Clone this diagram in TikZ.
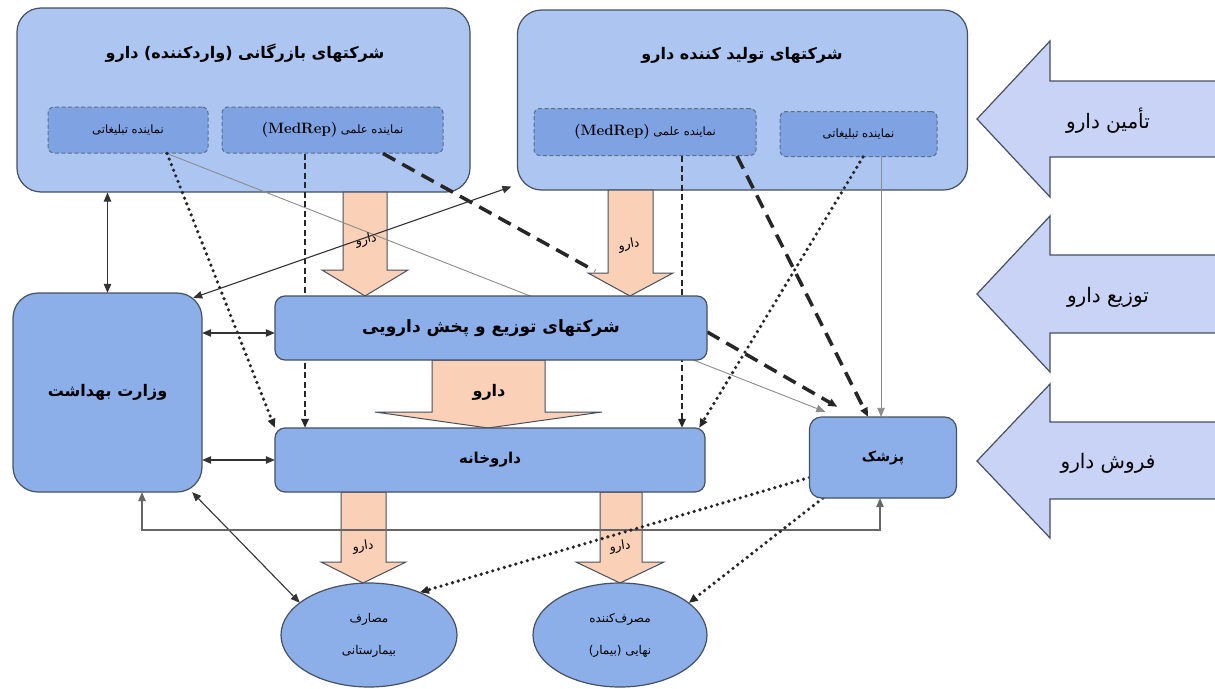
\documentclass[tikz,border=0pt]{standalone}
\usepackage{fontspec}
\usetikzlibrary{arrows.meta,shapes.geometric}
\TeXXeTstate=1
\newfontfamily\fa[Script=Arabic]{DejaVu Sans}
\newcommand\FaT[1]{{\fa\beginR #1\endR}}
\definecolor{outerc}{RGB}{172,198,241}
\definecolor{innerc}{RGB}{126,162,226}
\definecolor{mainc}{RGB}{140,175,234}
\definecolor{bordc}{RGB}{70,80,95}
\definecolor{dashc}{RGB}{95,110,135}
\definecolor{orc}{RGB}{250,208,182}
\definecolor{sidec}{RGB}{201,211,246}
\begin{document}
\begin{tikzpicture}[x=1pt,y=-1pt,
  outerbox/.style={draw=bordc,line width=1.2pt,fill=outerc,rounded corners=24pt,inner sep=0pt},
  innerbox/.style={draw=dashc,line width=1pt,dash pattern=on 4pt off 2.5pt,fill=innerc,rounded corners=6pt,inner sep=0pt},
  mainbox/.style={draw=bordc,line width=1.2pt,fill=mainc,rounded corners=10pt,inner sep=0pt},
  ellnode/.style={ellipse,draw=bordc,line width=1.2pt,fill=mainc,inner sep=0pt,align=center},
  bigtxt/.style={font=\fontsize{16}{18}\selectfont\bfseries},
  smalltxt/.style={font=\fontsize{11.5}{13}\selectfont},
  lbltxt/.style={font=\fontsize{12.5}{14}\selectfont},
  sidetxt/.style={font=\fontsize{20}{23}\selectfont},
  tipa/.style={-{Triangle[length=9pt,width=7.5pt]}},
  tipb/.style={{Triangle[length=9pt,width=7.5pt]}-{Triangle[length=9pt,width=7.5pt]}},
  solidln/.style={draw=black!80,line width=1.1pt},
  dotln/.style={line width=3.6pt,dash pattern=on 0pt off 6pt,line cap=round,draw=black!85},
  dashln/.style={line width=1.9pt,dash pattern=on 6pt off 3.5pt,draw=black!85},
  heavyln/.style={line width=3.5pt,dash pattern=on 14pt off 8pt,draw=black!85},
  grayln/.style={line width=0.9pt,draw=black!45},
  fbln/.style={line width=1.3pt,draw=black!60},
  orarrow/.style={draw=bordc,line width=1pt,fill=orc},
  sidearrow/.style={draw=bordc,line width=1.2pt,fill=sidec},
]
\fill[white] (0,0) rectangle (1215,688);
\useasboundingbox (0,0) rectangle (1215,688);

% side arrows
\draw[sidearrow] (1220,81) -- (1050,81) -- (1050,41) -- (977,119) -- (1050,197) -- (1050,157) -- (1220,157) -- cycle;
\draw[sidearrow] (1220,255) -- (1050,255) -- (1050,216) -- (977,294) -- (1050,372) -- (1050,333) -- (1220,333) -- cycle;
\draw[sidearrow] (1220,422) -- (1050,422) -- (1050,384) -- (977,461) -- (1050,538) -- (1050,499) -- (1220,499) -- cycle;
\node[sidetxt] (S1) at (1108,121) {\FaT{تأمین دارو}};
\node[sidetxt] (S2) at (1108,297) {\FaT{توزیع دارو}};
\node[sidetxt] (S3) at (1108,463) {\FaT{فروش دارو}};

% top boxes
\node[outerbox,minimum width=453pt,minimum height=184pt] (A) at (243.5,100) {};
\node[bigtxt] (At) at (245,53) {\FaT{شرکتهای بازرگانی (واردکننده) دارو}};
\node[innerbox,minimum width=160pt,minimum height=46pt,smalltxt] (Atab) at (128,130) {\FaT{نماینده تبلیغاتی}};
\node[innerbox,minimum width=221pt,minimum height=46pt] (Amed) at (332.5,130) {};
\node[outerbox,minimum width=450pt,minimum height=180pt] (B) at (742.5,100) {};
\node[bigtxt] (Bt) at (742,55) {\FaT{شرکتهای تولید کننده دارو}};
\node[innerbox,minimum width=222pt,minimum height=47pt] (Bmed) at (645,132) {};
\node[innerbox,minimum width=157pt,minimum height=45pt,smalltxt] (Btab) at (858.5,134) {\FaT{نماینده تبلیغاتی}};

% orange arrows
\draw[orarrow] (343,192) -- (387,192) -- (387,270) -- (408,270) -- (365,296) -- (322,270) -- (343,270) -- cycle;
\draw[orarrow] (608,190) -- (653,190) -- (653,273) -- (673,273) -- (630,296) -- (588,273) -- (608,273) -- cycle;
\draw[orarrow] (432,360) -- (545,360) -- (545,412) -- (602,412) -- (488,428) -- (375,412) -- (432,412) -- cycle;
\draw[orarrow] (341,492) -- (386,492) -- (386,562) -- (406,562) -- (363,583) -- (321,562) -- (341,562) -- cycle;
\draw[orarrow] (600,492) -- (642,492) -- (642,562) -- (664,562) -- (620,583) -- (576,562) -- (600,562) -- cycle;

% coordinates
\coordinate (hd) at (595,271);
\coordinate (fbL) at (142,530);
\coordinate (fbR) at (880,530);

% invisible placeholders (named) for the main boxes
\path (107.5,392.5) node[minimum width=189pt,minimum height=199pt,inner sep=0pt] (M) {};
\path (491,328) node[minimum width=432pt,minimum height=64pt,inner sep=0pt] (D) {};
\path (490,460) node[minimum width=430pt,minimum height=64pt,inner sep=0pt] (P) {};
\path (883,457.5) node[minimum width=147pt,minimum height=81pt,inner sep=0pt] (Dr) {};
\path (369,635) node[ellipse,minimum width=176pt,minimum height=104pt,inner sep=0pt] (E1) {};
\path (620,635) node[ellipse,minimum width=174pt,minimum height=104pt,inner sep=0pt] (E2) {};

% connectors
\draw[grayln,tipa] ([xshift=39pt]Atab.south) -- ([xshift=16pt,yshift=5pt]Dr.north west);
\draw[dotln,tipa] ([xshift=39pt]Atab.south) -- (P.north west);
\draw[dashln,tipa] ([xshift=-27.5pt]Amed.south) -- ([xshift=-27.5pt]Amed.south |- P.north);
\draw[heavyln] ([xshift=50.5pt]Amed.south) -- (hd);
\draw[dashln,tipa] ([xshift=37pt]Bmed.south) -- ([xshift=37pt]Bmed.south |- P.north);
\draw[heavyln,tipa] ([xshift=92pt]Bmed.south) -- ([xshift=-15pt]Dr.north);
\draw[dotln,tipa] ([xshift=4.5pt]Btab.south) -- ([xshift=-6pt]P.north east);
\draw[grayln,tipa] ([xshift=22.5pt]Btab.south) -- ([xshift=22.5pt]Btab.south |- Dr.north);
\draw[heavyln,tipa] ([yshift=-4pt]D.east) -- ([xshift=28pt,yshift=10pt]Dr.north west);
\draw[solidln,tipb] (M.north |- A.south) -- (M.north);
\draw[solidln,tipb] ([yshift=-5pt]D.west -| M.east) -- ([yshift=-5pt]D.west);
\draw[solidln,tipb] (P.west -| M.east) -- (P.west);
\draw[solidln,tipb] ([xshift=-10pt]M.south east) -- (E1.155);
\draw[fbln,tipb] ([xshift=34.5pt]M.south) -- (fbL) -- (fbR) -- (fbR |- Dr.south);
\draw[dotln,tipa] ([yshift=-20pt]Dr.west) -- (E1.40);
\draw[dotln,tipa] ([xshift=13.5pt]Dr.south west) -- (E2.25);

% main boxes drawn
\node[mainbox,rounded corners=25pt,minimum width=189pt,minimum height=199pt,font=\fontsize{16}{18}\selectfont\bfseries] (Mb) at (M) {\FaT{وزارت بهداشت}};
\node[mainbox,minimum width=432pt,minimum height=64pt,font=\fontsize{17}{19}\selectfont\bfseries] (Db) at (D) {\FaT{شرکتهای توزیع و پخش دارویی}};
\node[mainbox,minimum width=430pt,minimum height=64pt,font=\fontsize{15}{17}\selectfont\bfseries] (Pb) at (P) {\FaT{داروخانه}};
\node[mainbox,rounded corners=12pt,minimum width=147pt,minimum height=81pt,font=\fontsize{14}{16}\selectfont\bfseries] (Drb) at (Dr) {\FaT{پزشک}};
\node[ellnode,minimum width=176pt,minimum height=104pt,font=\fontsize{12}{32}\selectfont] (E1b) at (E1) {\FaT{مصارف}\\\FaT{بیمارستانی}};
\node[ellnode,minimum width=174pt,minimum height=104pt,font=\fontsize{12}{32}\selectfont] (E2b) at (E2) {\FaT{مصرف‌کننده}\\\FaT{نهایی (بیمار)}};

% MedRep texts
\node[inner sep=0pt] (AmedT) at (Amed) {{\fontsize{15}{17}\selectfont\bfseries (MedRep)}\ {\fontsize{11.5}{13}\selectfont\FaT{نماینده علمی}}};
\node[inner sep=0pt] (BmedT) at (Bmed) {{\fontsize{15}{17}\selectfont\bfseries (MedRep)}\ {\fontsize{11.5}{13}\selectfont\FaT{نماینده علمی}}};

% labels on orange arrows
\node[lbltxt,rotate=12] (L1) at (366,240) {\FaT{دارو}};
\node[lbltxt,rotate=10] (L2) at (629,245) {\FaT{دارو}};
\node[font=\fontsize{16}{18}\selectfont\bfseries] (L3) at (489,392) {\FaT{دارو}};
\node[lbltxt,rotate=8] (L4) at (363,547) {\FaT{دارو}};
\node[lbltxt,rotate=8] (L5) at (620,547) {\FaT{دارو}};

% ministry - producers line (on top)
\draw[solidln,tipb] ([xshift=-9pt,yshift=-5pt]M.north east) -- ([xshift=-5.5pt,yshift=4pt]B.south west);
\end{tikzpicture}
\end{document}
